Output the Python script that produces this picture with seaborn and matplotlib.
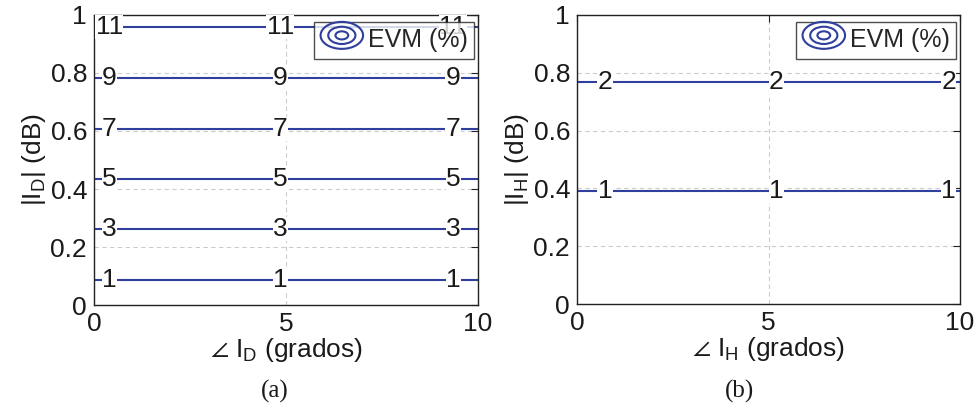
import matplotlib
matplotlib.use("Agg")
import matplotlib.pyplot as plt
import seaborn as sns
import pandas as pd
from matplotlib.patches import Ellipse
from matplotlib.legend_handler import HandlerBase
from matplotlib.lines import Line2D

# EVM (%) contour levels and the magnitude (dB) where each sits
levels_a = [1, 3, 5, 7, 9, 11]
mag_a = [0.086, 0.262, 0.434, 0.607, 0.783, 0.959]
levels_b = [1, 2]
mag_b = [0.391, 0.768]

phase_range = [0, 10]
x_ticks = [0, 5, 10]
y_ticks = [0, 0.2, 0.4, 0.6, 0.8, 1]

LINE = "#2f3f9e"

sns.set_theme(style="white")
plt.rcParams["font.family"] = ["Liberation Sans", "DejaVu Sans"]
plt.rcParams["mathtext.fontset"] = "custom"
plt.rcParams["mathtext.rm"] = "Liberation Sans"
plt.rcParams["mathtext.it"] = "Liberation Sans"
plt.rcParams["mathtext.fallback"] = "stixsans"

fig = plt.figure(figsize=(9.78, 4.12), dpi=100)
ax_a = fig.add_axes([0.0961, 0.2597, 0.3927, 0.7039])
ax_b = fig.add_axes([0.5900, 0.2621, 0.3916, 0.7015])


class ContourIcon(HandlerBase):
    def create_artists(self, legend, orig, xd, yd, w, h, fontsize, trans):
        cx, cy = xd + w / 2, yd + h / 2
        arts = []
        for s in (1.0, 0.64, 0.3):
            e = Ellipse((cx, cy), w * s, h * 1.3 * s, fill=False,
                        edgecolor=LINE, lw=1.5, transform=trans)
            arts.append(e)
        return arts


def draw(ax, levels, mags, label_x, sub):
    rows = []
    for lev, m in zip(levels, mags):
        for x in phase_range:
            rows.append({"x": x, "y": m, "level": lev})
    df = pd.DataFrame(rows)
    sns.lineplot(data=df, x="x", y="y", units="level", estimator=None,
                 color=LINE, lw=1.5, ax=ax, legend=False)
    for lev, m in zip(levels, mags):
        for lx in label_x:
            ax.text(lx, m, str(lev), fontsize=19, ha="center", va="center",
                    color="#1a1a1a",
                    bbox=dict(facecolor="white", edgecolor="none", pad=0.1))
    ax.set_xlim(0, 10)
    ax.set_ylim(0, 1)
    ax.set_xticks(x_ticks)
    ax.set_yticks(y_ticks)
    ax.set_xticklabels([str(t) for t in x_ticks])
    ax.set_yticklabels(["0", "0.2", "0.4", "0.6", "0.8", "1"])
    ax.tick_params(direction="in", length=5, width=0.8, labelsize=19,
                   top=True, right=True, color="#222222", pad=5,
                   labelcolor="#1a1a1a")
    ax.grid(True, ls=(0, (4, 3)), color="#cccccc", lw=0.8)
    for sp in ax.spines.values():
        sp.set_color("#222222")
        sp.set_linewidth(1.0)
    ax.set_xlabel("$\\angle$ I$_{\\rm " + sub + "}$ (grados)", fontsize=19,
                  labelpad=0, color="#1a1a1a")
    ax.set_ylabel("|I$_{\\rm " + sub + "}$| (dB)", fontsize=19,
                  labelpad=2, color="#1a1a1a")
    proxy = Line2D([], [], color=LINE)
    leg = ax.legend([proxy], ["EVM (%)"], handler_map={Line2D: ContourIcon()},
                    loc="upper right", fontsize=18, frameon=True, fancybox=False,
                    handlelength=1.7, handleheight=0.9, handletextpad=0.2,
                    borderpad=0.25, bbox_to_anchor=(0.99, 0.975),
                    borderaxespad=0)
    leg.get_frame().set_edgecolor("#222222")
    leg.get_frame().set_linewidth(1.0)
    leg.set_zorder(5)


draw(ax_a, levels_a, mag_a, [0.4, 4.85, 9.35], "D")
draw(ax_b, levels_b, mag_b, [0.73, 5.2, 9.7], "H")

fig.text(0.2812, 0.035, "(a)", family="Liberation Serif", fontsize=18,
         ha="center", color="#1a1a1a")
fig.text(0.7566, 0.035, "(b)", family="Liberation Serif", fontsize=18,
         ha="center", color="#1a1a1a")

fig.savefig("out.png", dpi=100)
